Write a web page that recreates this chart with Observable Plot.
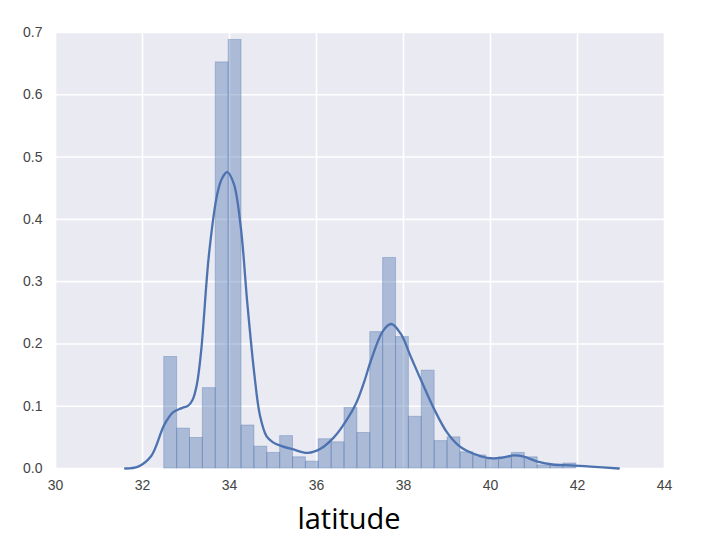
<!DOCTYPE html>
<html>
<head>
<meta charset="utf-8">
<script src="https://cdn.jsdelivr.net/npm/d3@7"></script>
<script src="https://cdn.jsdelivr.net/npm/@observablehq/plot@0.6"></script>
<style>
  html, body { margin: 0; padding: 0; background: white; }
</style>
</head>
<body>
<div id="chart"></div>
<script>
// Histogram (density) of latitude
const binStart = 32.50;
const binWidth = 0.296;
const densities = [0.179, 0.064, 0.049, 0.129, 0.652, 0.688, 0.069, 0.035, 0.025, 0.052,
                   0.018, 0.011, 0.047, 0.042, 0.097, 0.057, 0.219, 0.338, 0.211, 0.083,
                   0.157, 0.044, 0.050, 0.026, 0.021, 0.014, 0.018, 0.025, 0.018, 0.005,
                   0.006, 0.008];

// KDE curve
const kdeX = [31.6, 31.9, 32.2, 32.5, 32.7, 32.9, 33.05, 33.15, 33.25, 33.35, 33.53, 33.72, 33.83, 33.95,
              34.1, 34.26, 34.41, 34.57, 34.7, 34.85, 35.0, 35.2, 35.45, 35.8, 36.1, 36.4, 36.6,
              36.9, 37.1, 37.25, 37.53, 37.72, 37.94, 38.17, 38.44, 38.7, 39.0, 39.3, 39.6, 39.93,
              40.24, 40.54, 40.77, 41.08, 41.46, 41.85, 42.3, 42.95];
const kdeY = [0.0, 0.003, 0.02, 0.07, 0.09, 0.097, 0.101, 0.11, 0.135, 0.19, 0.345, 0.441, 0.466, 0.476,
              0.457, 0.387, 0.265, 0.152, 0.085, 0.052, 0.042, 0.036, 0.031, 0.025, 0.032, 0.05, 0.068,
              0.103, 0.14, 0.173, 0.221, 0.232, 0.216, 0.179, 0.136, 0.096, 0.058, 0.035, 0.024, 0.017,
              0.017, 0.021, 0.019, 0.011, 0.006, 0.005, 0.003, 0.0];

const xTicks = [30, 32, 34, 36, 38, 40, 42, 44];
const yTicks = [0.0, 0.1, 0.2, 0.3, 0.4, 0.5, 0.6, 0.7];
const xLabel = "latitude";

const bins = densities.map((d, i) => ({
  x1: binStart + i * binWidth,
  x2: binStart + (i + 1) * binWidth,
  y: d
}));
const kde = kdeX.map((x, i) => ({x, y: kdeY[i]}));

const blue = "#4C72B0";

const chart = Plot.plot({
  width: 712,
  height: 550,
  marginLeft: 55,
  marginRight: 48,
  marginTop: 32,
  marginBottom: 82,
  style: {fontFamily: "Liberation Sans", fontSize: "14px", color: "#444444", background: "white"},
  x: {domain: [30, 44], ticks: xTicks, tickSize: 0, tickPadding: 12, label: null},
  y: {domain: [0, 0.7], ticks: yTicks, tickSize: 0, tickPadding: 13, tickFormat: d3.format(".1f"), label: null},
  marks: [
    Plot.frame({fill: "#EAEAF2", stroke: "none"}),
    Plot.gridX(xTicks, {stroke: "white", strokeOpacity: 1, strokeWidth: 1.6}),
    Plot.gridY(yTicks, {stroke: "white", strokeOpacity: 1, strokeWidth: 1.6}),
    Plot.rectY(bins, {x1: "x1", x2: "x2", y: "y", fill: blue, fillOpacity: 0.4,
                      stroke: blue, strokeOpacity: 0.35, strokeWidth: 1, inset: 0}),
    Plot.line(kde, {x: "x", y: "y", stroke: blue, strokeWidth: 2.3, curve: "catmull-rom"}),
    Plot.text([xLabel], {frameAnchor: "bottom", lineAnchor: "bottom", dy: 60, dx: -11,
                         fontSize: 29, fontFamily: "Open Sans", fill: "black"})
  ]
});
document.getElementById("chart").appendChild(chart);
</script>
</body>
</html>
